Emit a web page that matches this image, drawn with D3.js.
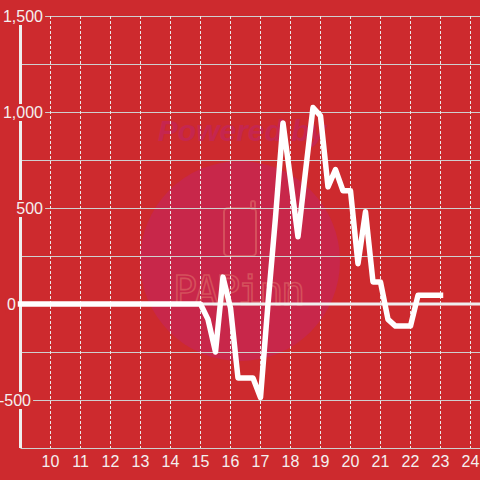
<!DOCTYPE html>
<html>
<head>
<meta charset="utf-8">
<script src="https://cdn.jsdelivr.net/npm/d3@7"></script>
<style>
  html, body { margin: 0; padding: 0; background: #cd2a2e; }
  svg { display: block; font-family: "Liberation Sans", Arial, sans-serif; }
</style>
</head>
<body>
<svg id="chart" width="480" height="480"></svg>
<script>
// hour of day, quarter steps where the line moves
const hours = [9, 10, 11, 12, 13, 14, 15, 15.25, 15.5, 15.75, 16, 16.25, 16.5, 16.75,
  17, 17.25, 17.5, 17.75, 18, 18.25, 18.5, 18.75, 19, 19.25, 19.5, 19.75,
  20, 20.25, 20.5, 20.75, 21, 21.25, 21.5, 21.75, 22, 22.25, 22.5, 22.75, 23];
const values = [0, 0, 0, 0, 0, 0, 0, -80, -250, 140, -20, -385, -385, -385,
  -487, 0, 450, 943, 650, 350, 690, 1023, 980, 610, 700, 590,
  590, 210, 480, 115, 115, -80, -115, -115, -115, 45, 45, 45, 45];

const xTicks = [10, 11, 12, 13, 14, 15, 16, 17, 18, 19, 20, 21, 22, 23, 24];
const yGrid = [-750, -500, -250, 0, 250, 500, 750, 1000, 1250, 1500];
const yLabels = [-500, 0, 500, 1000, 1500];

const bg = '#cd2a2e';
const W = 480, H = 480;

const svg = d3.select('#chart');

const x = d3.scaleLinear().domain([9, 24.317]).range([20.5, 480]);
const y = d3.scaleLinear().domain([-750, 1500]).range([448, 16]);

const fmt = d3.formatLocale({decimal: '.', thousands: ',', grouping: [3], currency: ['', ''], minus: '-'}).format(',');

svg.append('rect').attr('width', W).attr('height', H).attr('fill', bg);

// watermark
const wm = svg.append('g');
wm.append('circle').attr('cx', 240).attr('cy', 261).attr('r', 100).attr('fill', '#c8274a');
wm.append('text')
  .attr('x', 242).attr('y', 141)
  .attr('text-anchor', 'middle')
  .attr('font-size', 30).attr('font-weight', 'bold').attr('font-style', 'italic')
  .attr('fill', '#c5264f')
  .text('Powered by');
wm.append('rect')
  .attr('x', 224).attr('y', 208).attr('width', 32).attr('height', 48).attr('rx', 4)
  .attr('fill', 'none').attr('stroke', '#d5505c').attr('stroke-width', 2);
wm.append('rect')
  .attr('x', 251).attr('y', 201).attr('width', 4).attr('height', 8).attr('rx', 2)
  .attr('fill', 'none').attr('stroke', '#d5505c').attr('stroke-width', 2);
wm.append('text')
  .attr('x', 239).attr('y', 305)
  .attr('text-anchor', 'middle')
  .attr('font-family', '"DejaVu Sans Mono", monospace')
  .attr('font-size', 40)
  .attr('textLength', 132)
  .attr('fill', 'none').attr('stroke', '#d5505c').attr('stroke-width', 1.6)
  .text('PAPinn');

// horizontal grid
svg.append('g').selectAll('line').data(yGrid).join('line')
  .attr('x1', x(9)).attr('x2', W)
  .attr('y1', d => Math.round(y(d)) + 0.5).attr('y2', d => Math.round(y(d)) + 0.5)
  .attr('stroke', '#cfcfcf').attr('stroke-width', 1);

// vertical dashed grid
svg.append('g').selectAll('line').data(xTicks).join('line')
  .attr('x1', d => x(d)).attr('x2', d => x(d))
  .attr('y1', y(1500)).attr('y2', y(-750))
  .attr('stroke', '#ececec').attr('stroke-width', 1)
  .attr('stroke-dasharray', '3,2');

// zero baseline and y axis
svg.append('line')
  .attr('x1', x(9)).attr('x2', W).attr('y1', y(0)).attr('y2', y(0))
  .attr('stroke', '#efefef').attr('stroke-width', 3);
svg.append('line')
  .attr('x1', x(9)).attr('x2', x(9)).attr('y1', y(1500)).attr('y2', y(-750))
  .attr('stroke', '#efefef').attr('stroke-width', 3);

// y labels sit on little boxes in background colour
const labelEnd = {'1500': 43, '1000': 43, '500': 43, '0': 16, '-500': 31};
const yl = svg.append('g').selectAll('g').data(yLabels).join('g');
yl.append('rect').attr('fill', bg);
yl.append('text')
  .attr('x', d => labelEnd[d])
  .attr('y', d => y(d) + 6)
  .attr('text-anchor', 'end')
  .attr('font-size', 16)
  .attr('fill', '#f4f0f0')
  .text(d => fmt(d));
yl.each(function() {
  const g = d3.select(this);
  const b = g.select('text').node().getBBox();
  g.select('rect')
    .attr('x', b.x - 2).attr('width', b.width + 4)
    .attr('y', b.y).attr('height', b.height);
});

// x labels
svg.append('g').selectAll('text').data(xTicks).join('text')
  .attr('x', d => x(d)).attr('y', 467)
  .attr('text-anchor', 'middle')
  .attr('font-size', 16)
  .attr('fill', '#f4f0f0')
  .text(d => d);

// series
const pts = hours.map((h, i) => [h, values[i]]);
svg.append('path')
  .datum(pts)
  .attr('d', d3.line().x(d => x(d[0])).y(d => y(d[1])))
  .attr('fill', 'none')
  .attr('stroke', '#ffffff')
  .attr('stroke-width', 5.5)
  .attr('stroke-linejoin', 'round')
  .attr('stroke-linecap', 'square');
</script>
</body>
</html>
